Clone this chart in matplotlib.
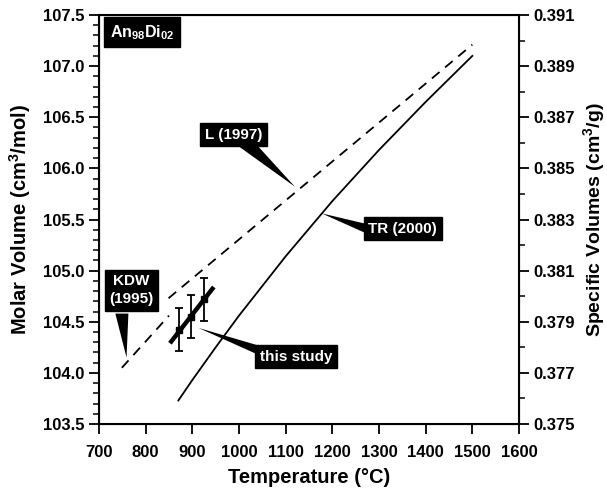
import numpy as np
import matplotlib
matplotlib.use("Agg")
import matplotlib.pyplot as plt
from matplotlib.ticker import MultipleLocator, FixedLocator, FormatStrFormatter

plt.rcParams['font.family'] = ['Liberation Sans', 'DejaVu Sans']
plt.rcParams['font.weight'] = 'bold'
plt.rcParams['mathtext.default'] = 'regular'

# --- data ---
kdw_T = [749, 850]
kdw_V = [104.05, 104.56]

l97_T = [849, 1500]
l97_V = [104.73, 107.21]

tr_T = [870, 900, 950, 1000, 1100, 1200, 1300, 1400, 1500]
tr_V = [103.73, 103.93, 104.25, 104.56, 105.14, 105.68, 106.18, 106.65, 107.10]

study_T = [872, 897, 926]
study_V = [104.42, 104.55, 104.72]
study_err = [0.21, 0.21, 0.21]
study_fit_T = [852, 946]
study_fit_V = [104.29, 104.84]

spec_ticks = [0.375, 0.377, 0.379, 0.381, 0.383, 0.385, 0.387, 0.389, 0.391]

fig = plt.figure(figsize=(6.07, 4.95), dpi=100)
ax = fig.add_axes([0.1631, 0.1434, 0.6919, 0.8263])

ax.plot(kdw_T, kdw_V, color='black', lw=1.3, ls=(0, (5.5, 4)))
ax.plot(l97_T, l97_V, color='black', lw=1.3, ls=(0, (5.5, 4)))
ax.plot(tr_T, tr_V, color='black', lw=1.3)
ax.plot(study_fit_T, study_fit_V, color='black', lw=3.2, solid_capstyle='butt')
ax.errorbar(study_T, study_V, yerr=study_err, fmt='s', color='black',
            ms=5, elinewidth=1.3, capsize=3, capthick=1.3)

ax.set_xlim(700, 1600)
ax.set_ylim(103.5, 107.5)
ax.xaxis.set_major_locator(MultipleLocator(100))
ax.yaxis.set_major_locator(MultipleLocator(0.5))
ax.yaxis.set_minor_locator(MultipleLocator(0.1))
ax.yaxis.set_major_formatter(FormatStrFormatter('%.1f'))
ax.tick_params(which='major', direction='out', length=7, width=1.3, labelsize=12)
ax.tick_params(which='minor', direction='out', length=4, width=1.1)
ax.tick_params(axis='x', pad=8)
for s in ax.spines.values():
    s.set_linewidth(1.5)

ax.set_xlabel('Temperature (°C)', fontsize=14.5, fontweight='bold', labelpad=6)
ax.set_ylabel('Molar Volume (cm$^3$/mol)', fontsize=14.5, fontweight='bold', labelpad=7)

ax2 = ax.twinx()
ax2.set_ylim(0.375, 0.391)
ax2.yaxis.set_major_locator(FixedLocator(spec_ticks))
ax2.yaxis.set_minor_locator(MultipleLocator(0.001))
ax2.yaxis.set_major_formatter(FormatStrFormatter('%.3f'))
ax2.tick_params(which='major', direction='out', length=7, width=1.3, labelsize=12)
ax2.tick_params(which='minor', direction='out', length=4, width=1.1)
ax2.set_ylabel('Specific Volumes (cm$^3$/g)', fontsize=14, fontweight='bold', labelpad=4)

box = dict(boxstyle='square,pad=0.3', fc='black', ec='black')


def callout(text, xy, base, tip):
    # black wedge from the label box to the curve
    ax.fill([base[0][0], base[1][0], tip[0]], [base[0][1], base[1][1], tip[1]],
            color='black', lw=0, zorder=4)
    ax.text(xy[0], xy[1], text, color='white', fontsize=11, fontweight='bold',
            ha='center', va='center', bbox=box, zorder=5, linespacing=1.35)


callout('L (1997)', (988, 106.33), [(998, 106.22), (1040, 106.22)], (1120, 105.82))
callout('TR (2000)', (1351, 105.41), [(1270, 105.46), (1270, 105.37)], (1177, 105.56))
callout('KDW\n(1995)', (770, 104.81), [(735, 104.58), (763, 104.58)], (759, 104.15))
callout('this study', (1122, 104.16), [(1040, 104.27), (1040, 104.18)], (913, 104.44))

ax.text(792, 107.33, r'An$_{98}$Di$_{02}$', color='white', fontsize=11.5, fontweight='bold',
        ha='center', va='center', bbox=dict(boxstyle='square,pad=0.35', fc='black'), zorder=5)

fig.savefig('out.png', dpi=100)
